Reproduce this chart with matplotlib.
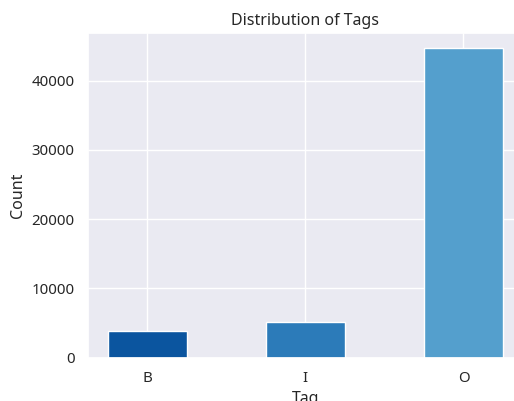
import matplotlib
matplotlib.use("Agg")
import matplotlib.pyplot as plt
import seaborn as sns

sns.set_theme(style="darkgrid")
plt.rcParams['font.family'] = ['Noto Sans', 'DejaVu Sans']

tags = ["B", "I", "O"]
counts = [3800, 5150, 44650]
colors = ["#0b559f", "#2c7bb9", "#549fcd"]

DPI = 100
fig = plt.figure(figsize=(514 / DPI, 401 / DPI), dpi=DPI)
ax = fig.add_axes([0.171, 0.108, 0.846, 0.810])
x = list(range(len(tags)))
ax.bar(x, counts, width=0.5, color=colors, edgecolor="white", linewidth=1)
ax.set_xticks(x)
ax.set_xticklabels(tags)
ax.tick_params(labelsize=10.8)
ax.set_xlim(-0.375, 2.375)
ax.set_ylim(0, max(counts) * 1.05)
ax.set_xlabel("Tag", fontsize=11.5)
ax.set_ylabel("Count", fontsize=11.5)
ax.set_title("Distribution of Tags", fontsize=11.5)
fig.savefig("out.png", dpi=DPI)
